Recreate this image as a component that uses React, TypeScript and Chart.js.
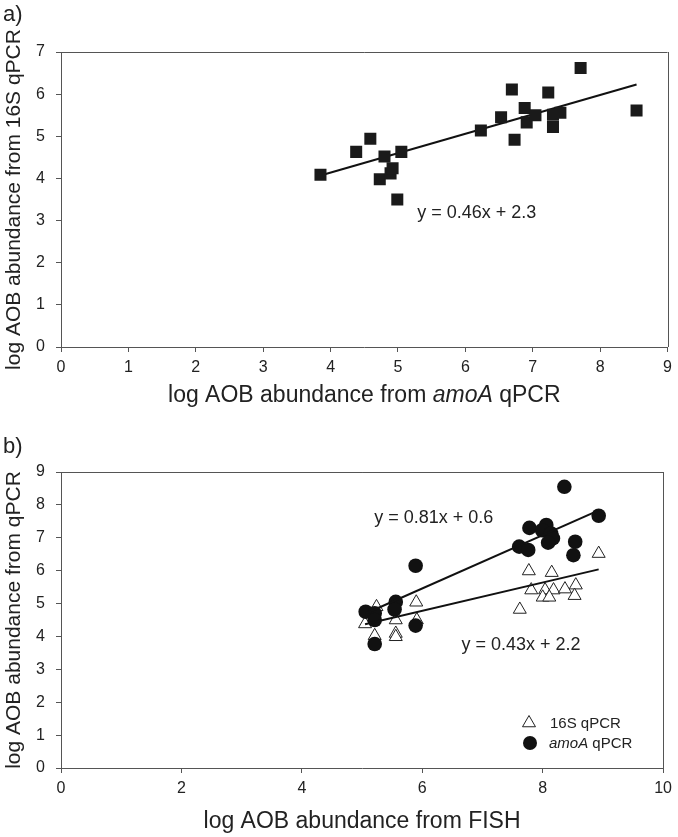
import React, { useEffect, useRef } from "react";
import { Chart, registerables } from "chart.js";

Chart.register(...registerables);

// ---------- Data ----------
// Panel a: log AOB abundance from amoA qPCR (x) vs 16S qPCR (y)
const aAmoA = [3.85, 4.38, 4.59, 4.80, 4.73, 4.89, 4.92, 5.05, 4.99, 6.23, 6.53, 6.69, 6.73, 6.88, 6.91, 7.04, 7.23, 7.30, 7.41, 7.30, 7.71, 8.54];
const a16S = [4.09, 4.63, 4.94, 4.52, 3.98, 4.12, 4.24, 4.63, 3.50, 5.14, 5.45, 6.11, 4.92, 5.67, 5.33, 5.50, 6.04, 5.51, 5.56, 5.22, 6.62, 5.61];
const aSlope = 0.46;
const aIntercept = 2.3;
const aEquation = "y = 0.46x + 2.3";

// Panel b: log AOB abundance from FISH (x) vs qPCR (y)
const bFish16S = [8.93, 7.77, 8.15, 7.81, 8.04, 8.18, 8.37, 8.55, 8.00, 8.11, 8.53, 7.62, 5.90, 5.24, 5.56, 5.91, 5.05, 5.21, 5.56, 5.56];
const b16S = [6.52, 5.99, 5.94, 5.41, 5.41, 5.41, 5.44, 5.56, 5.19, 5.19, 5.24, 4.82, 5.04, 4.90, 4.50, 4.50, 4.38, 4.02, 4.09, 3.99];
const bFishAmoA = [8.36, 8.93, 7.78, 8.06, 7.99, 8.14, 8.17, 8.09, 8.54, 8.51, 7.61, 7.76, 5.89, 5.56, 5.54, 5.06, 5.21, 5.21, 5.89, 5.21];
const bAmoA = [8.55, 7.67, 7.30, 7.39, 7.23, 7.13, 6.98, 6.85, 6.88, 6.47, 6.73, 6.63, 6.15, 5.05, 4.82, 4.75, 4.70, 4.50, 4.33, 3.77];
const b16SSlope = 0.43;
const b16SIntercept = 2.2;
const b16SEquation = "y = 0.43x + 2.2";
const bAmoASlope = 0.81;
const bAmoAIntercept = 0.6;
const bAmoAEquation = "y = 0.81x + 0.6";

const legendLabels = ["16S qPCR", "amoA qPCR"];

// ---------- Styling ----------
const FONT = "'Liberation Sans', Arial, Helvetica, sans-serif";
const TEXT = "#222";
const AXIS = "#555";

const toPoints = (xs: number[], ys: number[]) => xs.map((x, i) => ({ x, y: ys[i] }));
const trend = (xs: number[], slope: number, intercept: number) => {
  const lo = Math.min(...xs);
  const hi = Math.max(...xs);
  return [
    { x: lo, y: slope * lo + intercept },
    { x: hi, y: slope * hi + intercept },
  ];
};

type Seg = { text: string; italic?: boolean };

function drawRich(ctx: CanvasRenderingContext2D, segs: Seg[], cx: number, cy: number, size: number, align: "center" | "left" = "center") {
  ctx.save();
  ctx.fillStyle = TEXT;
  ctx.textBaseline = "middle";
  ctx.textAlign = "left";
  const widths = segs.map((s) => {
    ctx.font = `${s.italic ? "italic " : ""}${size}px ${FONT}`;
    return ctx.measureText(s.text).width;
  });
  const total = widths.reduce((a, b) => a + b, 0);
  let x = align === "center" ? cx - total / 2 : cx;
  segs.forEach((s, i) => {
    ctx.font = `${s.italic ? "italic " : ""}${size}px ${FONT}`;
    ctx.fillText(s.text, x, cy);
    x += widths[i];
  });
  ctx.restore();
}

function axisCommon(min: number, max: number, step: number, afterFit: (s: any) => void, isY: boolean, title?: string) {
  return {
    type: "linear" as const,
    min,
    max,
    afterFit,
    ticks: {
      stepSize: step,
      color: TEXT,
      font: { family: FONT, size: 16 },
      padding: isY ? 11 : 6,
    },
    grid: {
      display: true,
      drawOnChartArea: false,
      drawTicks: true,
      tickLength: 5,
      color: AXIS,
      tickColor: AXIS,
    },
    border: { display: true, color: AXIS, width: 1 },
    title: title
      ? {
          display: true,
          text: title,
          color: TEXT,
          font: { family: FONT, size: 21 },
          padding: { top: 2, bottom: 0 },
        }
      : { display: false },
  };
}

function decorPlugin(opts: {
  label: string;
  labelY: number;
  xTitle: Seg[];
  xTitleY: number;
  equations: { text: string; x: number; y: number }[];
  legend?: boolean;
}) {
  return {
    id: "decor" + opts.label,
    afterDraw(chart: any) {
      const ctx: CanvasRenderingContext2D = chart.ctx;
      const area = chart.chartArea;
      // frame: top and right lines
      ctx.save();
      ctx.strokeStyle = AXIS;
      ctx.lineWidth = 1;
      ctx.beginPath();
      ctx.moveTo(area.left, Math.round(area.top) + 0.5);
      ctx.lineTo(area.right, Math.round(area.top) + 0.5);
      ctx.moveTo(Math.round(area.right) + 0.5, area.top);
      ctx.lineTo(Math.round(area.right) + 0.5, area.bottom);
      ctx.stroke();
      ctx.restore();

      // panel label
      drawRich(ctx, [{ text: opts.label }], 3, opts.labelY, 22, "left");
      // x title
      drawRich(ctx, opts.xTitle, (area.left + area.right) / 2, opts.xTitleY, 23);
      // equations
      const xs = chart.scales.x;
      const ys = chart.scales.y;
      opts.equations.forEach((e) => {
        drawRich(ctx, [{ text: e.text }], xs.getPixelForValue(e.x), ys.getPixelForValue(e.y), 18);
      });
      // legend
      if (opts.legend) {
        const mx = 529;
        const y1 = 308;
        const y2 = 328;
        ctx.save();
        // triangle
        const r = 7.5;
        ctx.beginPath();
        ctx.moveTo(mx, y1 - r);
        ctx.lineTo(mx + r * Math.sin((2 * Math.PI) / 3), y1 - r * Math.cos((2 * Math.PI) / 3));
        ctx.lineTo(mx + r * Math.sin((4 * Math.PI) / 3), y1 - r * Math.cos((4 * Math.PI) / 3));
        ctx.closePath();
        ctx.fillStyle = "#fff";
        ctx.fill();
        ctx.strokeStyle = "#222";
        ctx.lineWidth = 1;
        ctx.stroke();
        // circle
        ctx.beginPath();
        ctx.arc(mx + 1, y2, 7, 0, Math.PI * 2);
        ctx.fillStyle = "#111";
        ctx.fill();
        ctx.restore();
        drawRich(ctx, [{ text: legendLabels[0] }], 550, y1 + 1, 15, "left");
        drawRich(ctx, [{ text: legendLabels[1].split(" ")[0], italic: true }, { text: " " + legendLabels[1].split(" ")[1] }], 549, y2 + 1, 15, "left");
      }
    },
  };
}

function makeConfigA(): any {
  return {
    type: "scatter",
    data: {
      datasets: [
        {
          label: "trend",
          data: trend(aAmoA, aSlope, aIntercept),
          showLine: true,
          borderColor: "#111",
          borderWidth: 2,
          pointRadius: 0,
          order: 2,
        },
        {
          label: "16S vs amoA",
          data: toPoints(aAmoA, a16S),
          pointStyle: "rect",
          pointRadius: 8.5,
          borderWidth: 0,
          backgroundColor: "#1a1a1a",
          borderColor: "#1a1a1a",
          order: 1,
        },
      ],
    },
    options: {
      responsive: false,
      animation: false,
      layout: { padding: { top: 52, right: 10, left: 0, bottom: 0 } },
      plugins: { legend: { display: false }, tooltip: { enabled: false } },
      scales: {
        x: axisCommon(0, 9, 1, (s: any) => { s.height = 68; }, false),
        y: axisCommon(0, 7, 1, (s: any) => { s.width = 61; }, true, "log AOB abundance from 16S qPCR"),
      },
    },
    plugins: [
      decorPlugin({
        label: "a)",
        labelY: 15,
        xTitle: [{ text: "log AOB abundance from " }, { text: "amoA", italic: true }, { text: " qPCR" }],
        xTitleY: 396,
        equations: [{ text: aEquation, x: 6.17, y: 3.18 }],
      }),
    ],
  };
}

function makeConfigB(): any {
  return {
    type: "scatter",
    data: {
      datasets: [
        {
          label: "trend amoA",
          data: trend(bFishAmoA, bAmoASlope, bAmoAIntercept),
          showLine: true,
          borderColor: "#111",
          borderWidth: 2,
          pointRadius: 0,
          order: 1,
        },
        {
          label: "trend 16S",
          data: trend(bFish16S, b16SSlope, b16SIntercept),
          showLine: true,
          borderColor: "#111",
          borderWidth: 2,
          pointRadius: 0,
          order: 1,
        },
        {
          label: legendLabels[0],
          data: toPoints(bFish16S, b16S),
          pointStyle: "triangle",
          pointRadius: 7.5,
          borderWidth: 1,
          backgroundColor: "#fff",
          borderColor: "#222",
          order: 3,
        },
        {
          label: legendLabels[1],
          data: toPoints(bFishAmoA, bAmoA),
          pointStyle: "circle",
          pointRadius: 7.3,
          borderWidth: 0,
          backgroundColor: "#111",
          borderColor: "#111",
          order: 2,
        },
      ],
    },
    options: {
      responsive: false,
      animation: false,
      layout: { padding: { top: 57, right: 10, left: 0, bottom: 0 } },
      plugins: { legend: { display: false }, tooltip: { enabled: false } },
      scales: {
        x: axisCommon(0, 10, 2, (s: any) => { s.height = 69; }, false),
        y: axisCommon(0, 9, 1, (s: any) => { s.width = 61; }, true, "log AOB abundance from qPCR"),
      },
    },
    plugins: [
      decorPlugin({
        label: "b)",
        labelY: 32,
        xTitle: [{ text: "log AOB abundance from FISH" }],
        xTitleY: 407,
        equations: [
          { text: bAmoAEquation, x: 6.19, y: 7.6 },
          { text: b16SEquation, x: 7.64, y: 3.74 },
        ],
        legend: true,
      }),
    ],
  };
}

export default function App() {
  const refA = useRef<HTMLCanvasElement>(null);
  const refB = useRef<HTMLCanvasElement>(null);

  useEffect(() => {
    const ca = new Chart(refA.current as HTMLCanvasElement, makeConfigA());
    const cb = new Chart(refB.current as HTMLCanvasElement, makeConfigB());
    return () => {
      ca.destroy();
      cb.destroy();
    };
  }, []);

  return (
    <div style={{ position: "absolute", left: 0, top: 0, width: 678, height: 837, background: "#fff" }}>
      <canvas ref={refA} width={678} height={415} style={{ position: "absolute", left: 0, top: 0 }} />
      <canvas ref={refB} width={678} height={422} style={{ position: "absolute", left: 0, top: 415 }} />
    </div>
  );
}
